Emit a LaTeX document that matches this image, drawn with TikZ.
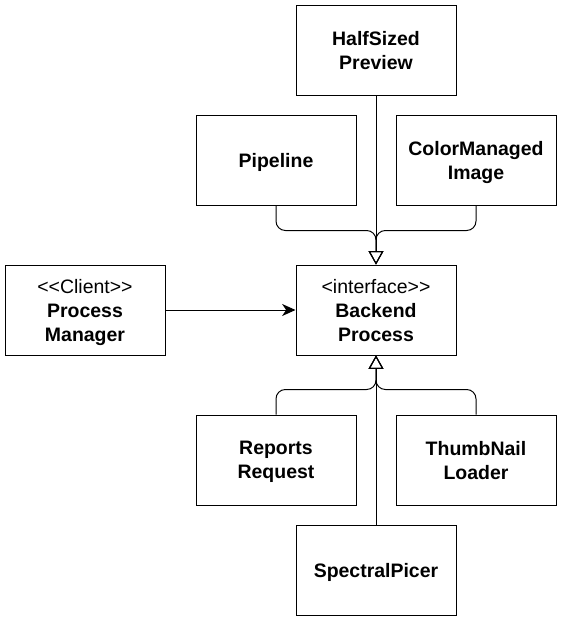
\documentclass[tikz,border=0pt]{standalone}
\usepackage{fontspec}
\setmainfont{Liberation Sans}
\usetikzlibrary{arrows.meta,positioning}
\tikzset{
  inherit/.style={-{Triangle[open,length=10pt,width=11pt]}, rounded corners=7pt},
  uses/.style={-{Stealth[length=10pt,width=9pt,inset=3pt]}}
}

\begin{document}
\begin{tikzpicture}[x=0.75pt,y=-0.75pt, line width=0.75pt,
  every node/.style={rectangle,draw,minimum width=120pt,minimum height=67.5pt,align=center,text depth=0pt,font=\fontsize{14.6}{18}\selectfont}]
\useasboundingbox (0,0) rectangle (562,621);
% Define all the nodes.
% HalfSized preview
\node (halfsized) at (376,50) {\bfseries HalfSized\\\bfseries Preview};
% Pipeline
\node (pipeline) at (276,160) {\bfseries Pipeline};
% ColorManaged image
\node (colormanaged) at (476,160) {\bfseries ColorManaged\\\bfseries Image};
% Client
\node (procmgr) at (85,310) {<{}<Client>{}>\\\bfseries Process\\\bfseries Manager};
% Interface
\node (backend) at (376,310) {<interface>{}>\\\bfseries Backend\\\bfseries Process};
% Reports request
\node (reports) at (276,460) {\bfseries Reports\\\bfseries Request};
% ThumbNail loader
\node (thumbnail) at (476,460) {\bfseries ThumbNail\\\bfseries Loader};
% SpectralPicer
\node (spectral) at (376,570) {\bfseries SpectralPicer};
% Draw the arrows
\draw[inherit] (halfsized) -- (backend);
\draw[inherit] (pipeline.south) -- ++(0,25) -| (backend.north);
\draw[inherit] (colormanaged.south) -- ++(0,25) -| (backend.north);
\draw[inherit] (spectral) -- (backend);
\draw[inherit] (reports.north) -- ++(0,-25) -| (backend.south);
\draw[inherit] (thumbnail.north) -- ++(0,-25) -| (backend.south);
\draw[uses] (procmgr) -- (backend);
\end{tikzpicture}
\end{document}
